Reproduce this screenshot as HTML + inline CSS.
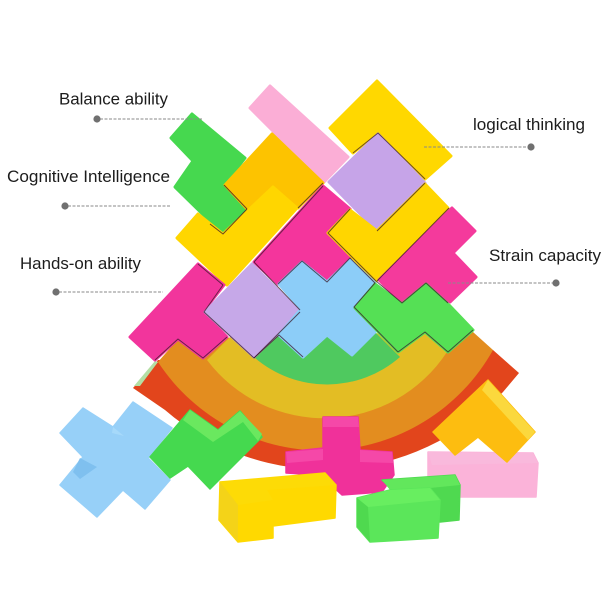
<!DOCTYPE html>
<html><head><meta charset="utf-8"><style>
html,body{margin:0;padding:0;background:#fff}
svg{display:block}
text{font-family:"Liberation Sans",sans-serif;font-size:16.2px;fill:#1c1c1c}
.p{stroke-width:3;stroke-linejoin:round}
.j{stroke-linejoin:round;stroke-width:1.5}
.s{fill:none;stroke:#3a1a2a;stroke-width:1;stroke-linejoin:round;opacity:.75}
.d{stroke:#8a8a8a;stroke-width:1;stroke-dasharray:3 1.5}
.soft{filter:blur(.35px)}
</style></head><body>
<svg width="612" height="612" viewBox="0 0 612 612" xmlns="http://www.w3.org/2000/svg">
<rect width="612" height="612" fill="#fff"/>

<g class="soft">
<!-- rainbow -->
<path d="M133 388 L158 360 L493 350 L519 373 L503 392 A244 244 0 0 1 165 410 Z" fill="#e2451c"/>
<path d="M134 386 L155 361 L158 362 L140 386Z" fill="#b4dfa4"/>
<path d="M158 362 L178 339 L473 332 L493 350 A196 196 0 0 1 158 362Z" fill="#e38d1f"/>
<path d="M207 360 L230 337 L425 332 L447 352 A147 147 0 0 1 207 360Z" fill="#e3bd24"/>
<path d="M255 358 L279 335 L375 332 L400 357 A111 111 0 0 1 255 358Z" fill="#4fc95f"/>

<!-- bottom pieces -->
<g class="j">
<polygon points="428,452 533,453 538,463 536,497 428,497" fill="#fbb3d9" stroke="#fbb3d9"/>
<polygon points="428,452 533,453 538,463 432,465" fill="#f9b9dc"/>

<polygon points="323,417 358,417 360,450 392,452 394,475 382,492 342,495 320,475 286,473 286,452 323,448" fill="#f0319a" stroke="#f0319a"/>
<polygon points="323,417 358,417 359,427 323,427" fill="#f548a8"/>
<polygon points="286,452 323,449 323,460 287,463" fill="#f548a8"/>
<polygon points="360,450 392,452 393,463 360,462" fill="#f548a8"/>

<polygon points="83,408 60,433 83,457 60,485 97,517 123,490 145,509 170,480 148,458 172,428 133,402 113,427" fill="#97d0f8" stroke="#97d0f8"/>
<polygon points="80,458 97,467 80,479 73,472" fill="#7fc0ef"/>
<polygon points="113,427 124,436 112,433" fill="#a6d9fa"/>

<polygon points="190,410 150,457 170,478 188,466 210,489 262,437 240,411 218,430" fill="#45d94f" stroke="#45d94f"/>
<polygon points="190,410 218,430 240,411 262,434 258,441 243,422 213,442 183,420" fill="#6ae85f"/>

<polygon points="382,480 455,475 460,485 459,520 440,522 405,500" fill="#4fd950" stroke="#4fd950"/>
<polygon points="382,480 455,475 460,485 430,488 390,490" fill="#62e75c"/>
<polygon points="357,498 390,490 430,488 440,500 438,538 370,542 357,527" fill="#5be65a" stroke="#5be65a"/>
<polygon points="357,498 390,490 430,488 440,500 368,507" fill="#68ee60"/>
<polygon points="357,498 368,507 370,542 357,527" fill="#4fd94f"/>

<polygon points="220,482 325,473 336,485 335,518 273,526 273,538 238,542 219,520" fill="#ffd900" stroke="#ffd900"/>
<polygon points="220,482 325,473 336,485 267,490 273,500 238,505" fill="#fddb06"/>
<polygon points="220,482 238,505 238,542 219,520" fill="#f4d318"/>

<polygon points="488,380 433,432 455,455 478,437 507,462 535,432" fill="#fdbd10" stroke="#fdbd10"/>
<polygon points="488,380 535,432 528,440 482,390" fill="#fbd83d"/>
</g>

<!-- stacked pieces -->
<g class="p">
<polygon points="270,86 250,108 324,182 348,157" fill="#fbaed6" stroke="#fbaed6"/>
<polygon points="377,81 330,128 353,153 378,133 425,179 451,156" fill="#ffd800" stroke="#ffd800"/>
<polygon points="192,114 171,138 193,161 175,187 223,234 247,209 224,185 245,158" fill="#46d84f" stroke="#46d84f"/>
<polygon points="272,134 225,185 247,209 273,187 298,208 323,183" fill="#fdc300" stroke="#fdc300"/>
<polygon points="273,187 223,234 198,214 177,238 227,285 297,208" fill="#ffd600" stroke="#ffd600"/>
<polygon points="323,186 254,262 278,284 302,261 327,282 350,258 327,233 350,209" fill="#f4359c" stroke="#f4359c"/>
<polygon points="378,134 329,182 377,231 425,183" fill="#c6a4e8" stroke="#c6a4e8"/>
<polygon points="350,210 328,233 376,281 448,208 425,184 377,231" fill="#ffd600" stroke="#ffd600"/>
<polygon points="452,208 379,280 402,303 426,283 450,302 476,277 453,253 475,231" fill="#f43a9c" stroke="#f43a9c"/>
<polygon points="198,264 130,337 155,360 178,339 203,358 227,337 203,312 224,285" fill="#f2359c" stroke="#f2359c"/>
<polygon points="252,264 205,312 254,357 300,312" fill="#c6a8e8" stroke="#c6a8e8"/>
<polygon points="302,262 279,284 301,309 279,335 303,357 327,335 352,355 375,332 354,308 375,283 350,260 327,282" fill="#8ccdf8" stroke="#8ccdf8"/>
<polygon points="375,284 355,308 398,352 425,332 448,352 473,330 450,306 426,284 402,304" fill="#55e055" stroke="#55e055"/>
</g>

<!-- seams -->
<polyline class="s" points="353,153 378,133 425,179"/>
<polyline class="s" points="224,185 247,209"/>
<polyline class="s" points="247,209 223,234 210,224"/>
<polyline class="s" points="298,208 323,183"/>
<polyline class="s" points="254,262 323,186"/>
<polyline class="s" points="350,209 328,233 376,281"/>
<polyline class="s" points="377,231 425,183"/>
<polyline class="s" points="377,281 449,208"/>
<polyline class="s" points="376,281 402,303 426,283 448,303"/>
<polyline class="s" points="254,262 300,310"/>
<polyline class="s" points="278,284 302,261 327,282 350,258 375,283 354,307 398,352"/>
<polyline class="s" points="223,285 198,264"/>
<polyline class="s" points="223,285 204,312 254,358 300,312"/>
<polyline class="s" points="155,360 178,339 203,358 227,337"/>
<polyline class="s" points="254,358 279,335 303,357"/>
<polyline class="s" points="398,352 425,332 448,352 473,330"/>
</g>

<!-- labels -->
<line class="d" x1="100" y1="119" x2="203" y2="119"/>
<circle cx="97" cy="119" r="3.6" fill="#707070"/>
<line class="d" x1="68" y1="206" x2="171" y2="206"/>
<circle cx="65" cy="206" r="3.6" fill="#707070"/>
<line class="d" x1="59" y1="292" x2="163" y2="292"/>
<circle cx="56" cy="292" r="3.6" fill="#707070"/>
<line class="d" x1="424" y1="147" x2="528" y2="147"/>
<circle cx="531" cy="147" r="3.6" fill="#707070"/>
<line class="d" x1="448" y1="283" x2="553" y2="283"/>
<circle cx="556" cy="283" r="3.6" fill="#707070"/>

<text x="59" y="104.500" textLength="109" lengthAdjust="spacingAndGlyphs">Balance ability</text>
<text x="7" y="182" textLength="163" lengthAdjust="spacingAndGlyphs">Cognitive Intelligence</text>
<text x="20" y="269" textLength="121" lengthAdjust="spacingAndGlyphs">Hands-on ability</text>
<text x="473" y="130" textLength="112" lengthAdjust="spacingAndGlyphs">logical thinking</text>
<text x="489" y="261" textLength="112" lengthAdjust="spacingAndGlyphs">Strain capacity</text>
</svg>
</body></html>
